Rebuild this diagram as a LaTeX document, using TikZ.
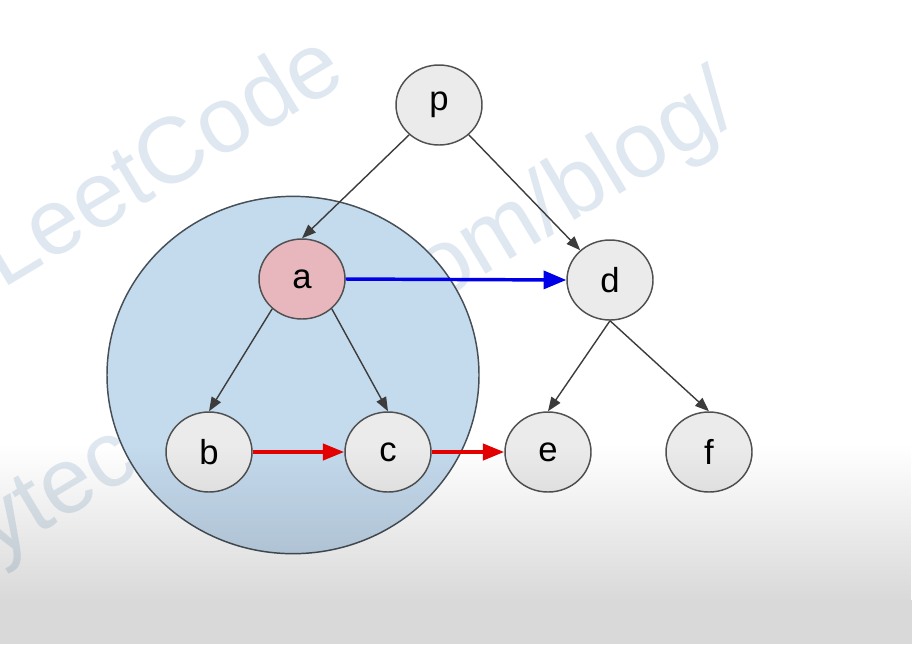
\documentclass[tikz,border=0pt]{standalone}
\usepackage{fontspec}
\setmainfont{Liberation Sans}
\usetikzlibrary{arrows.meta,fadings,shapes.geometric}
\definecolor{nodefill}{RGB}{235,235,235}
\definecolor{nodeline}{RGB}{80,80,80}
\definecolor{pinkfill}{RGB}{232,183,190}
\definecolor{bigfill}{RGB}{196,218,237}
\definecolor{bigline}{RGB}{70,78,86}
\definecolor{edgegray}{RGB}{60,60,60}
\definecolor{arrblue}{RGB}{0,0,232}
\definecolor{arrred}{RGB}{228,0,0}
\definecolor{wmark}{RGB}{223,232,240}
\tikzset{
  tnode/.style={ellipse, draw=nodeline, line width=1.1pt, fill=nodefill,
    minimum width=64.5pt, minimum height=60pt, inner sep=0pt,
    font=\fontsize{26}{30}\selectfont},
  bignode/.style={ellipse, draw=bigline, line width=1.1pt, fill=bigfill,
    minimum width=279pt, minimum height=268pt, inner sep=0pt},
  wm/.style={anchor=base west, rotate=31, text=wmark,
    inner sep=0pt, font=\fontsize{70}{72}\selectfont},
  treeedge/.style={draw=edgegray, line width=1.05pt, -{Triangle[length=10.5pt,width=8pt]}},
  bluearrow/.style={draw=arrblue, line width=2.6pt, -{Triangle[length=17pt,width=13.5pt]}},
  redarrow/.style={draw=arrred, line width=3pt, -{Triangle[length=16pt,width=12pt]}}
}
\begin{document}
\begin{tikzpicture}[x=0.75pt,y=-0.75pt]
\useasboundingbox (0,0) rectangle (912,644);
\fill[white] (0,0) rectangle (912,644);
% watermark
\node[wm] (wm1) at (2,290) {LeetCode};
\node[wm] (wm2) at (436,304) {om/blog/};
\node[wm] (wm3) at (-4,560) {ytec};
% highlighted subtree
\node[bignode] (big) at (293,375) {};
% tree nodes
\node[tnode] (p) at (439,105) {p};
\node[tnode, fill=pinkfill] (a) at (302,279) {a};
\node[tnode] (d) at (610,280) {d};
\node[tnode] (b) at (209,452) {b};
\node[tnode] (c) at (388,452) {c};
\node[tnode] (e) at (548,452) {e};
\node[tnode] (f) at (709,452) {f};
% tree edges
\draw[treeedge] (p.225) -- (a.north);
\draw[treeedge] (p.-45) -- (d.135);
\draw[treeedge] (a.225) -- (b.north);
\draw[treeedge] (a.-45) -- (c.north);
\draw[treeedge] (d.south) -- (e.north);
\draw[treeedge] (d.south) -- (f.north);
% next pointers
\draw[bluearrow] (a.east) -- (d.west);
\draw[redarrow] (b.east) -- (c.west);
\draw[redarrow] (c.east) -- (e.west);
% bottom gradient
\fill[black, fill opacity=0.15, path fading=north] (0,445) rectangle (912,600);
\fill[black, fill opacity=0.15] (0,599.5) rectangle (912,644);
\end{tikzpicture}
\end{document}
